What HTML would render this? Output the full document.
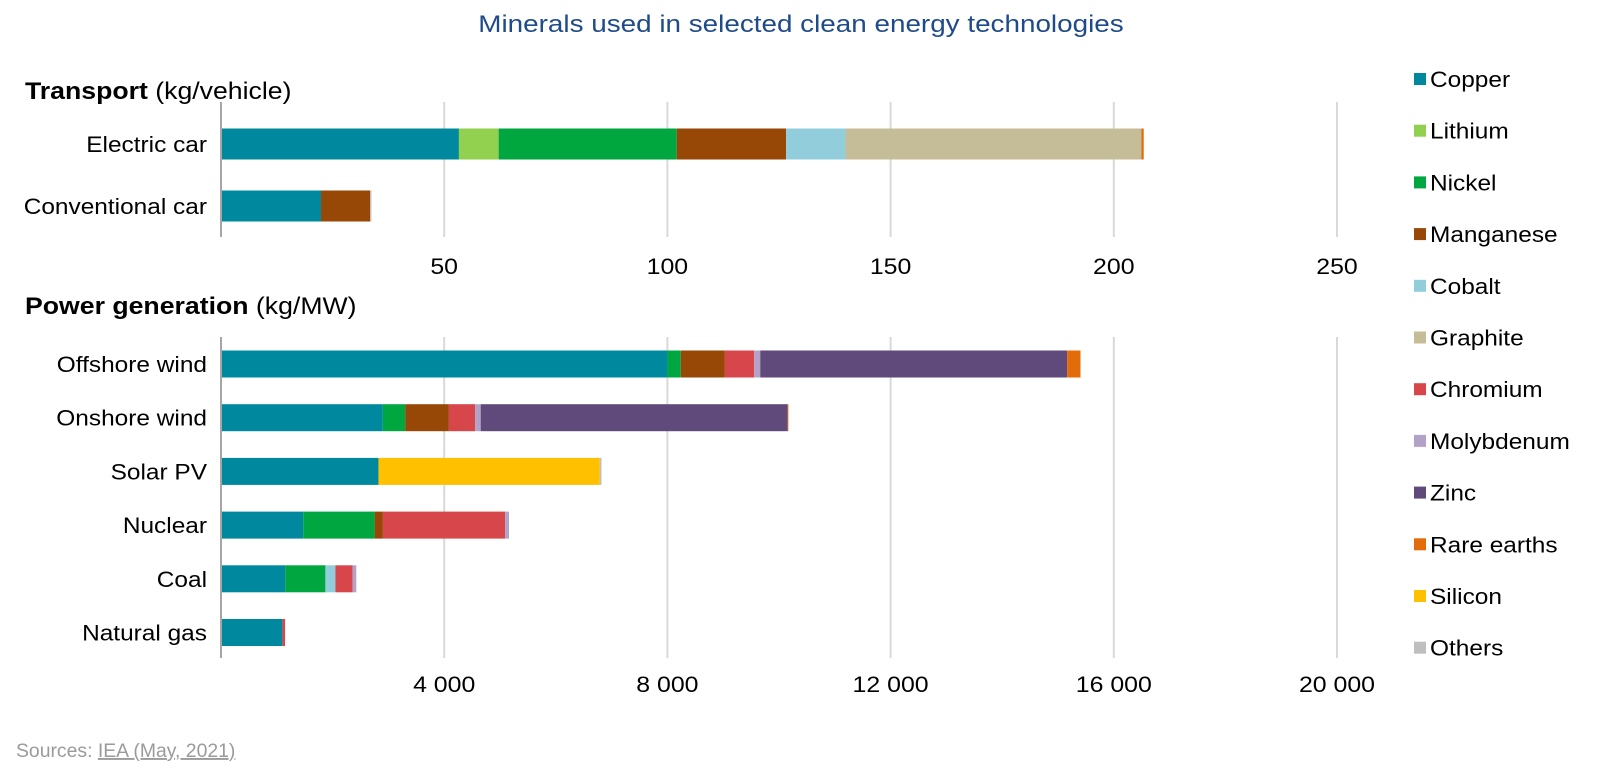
<!DOCTYPE html>
<html><head><meta charset="utf-8"><style>
body{margin:0;background:#fff;font-family:"Liberation Sans",sans-serif;}
svg text{font-family:"Liberation Sans",sans-serif;}
</style></head><body>
<svg id="c" width="1600" height="777" xmlns="http://www.w3.org/2000/svg">
<text id="t0" x="801" y="32" text-anchor="middle" font-size="24" fill="#1f4b8a">Minerals used in selected clean energy technologies</text>
<text id="t1" x="25" y="99" font-size="24" fill="#000"><tspan font-weight="bold">Transport</tspan> (kg/vehicle)</text>
<text id="t2" x="25" y="314" font-size="24" fill="#000"><tspan font-weight="bold">Power generation</tspan> (kg/MW)</text>
<text id="t3" x="16" y="757" font-size="19" fill="#9a9a9a">Sources: <tspan text-decoration="underline">IEA (May, 2021)</tspan></text>
<g id="g1"></g><g id="g2"></g><g id="leg"></g>
</svg>
<script>
const minerals=["Copper","Lithium","Nickel","Manganese","Cobalt","Graphite","Chromium","Molybdenum","Zinc","Rare earths","Silicon","Others"];
const colors=["#00889e","#92d050","#00a63f","#974706","#92cddc","#c4bd97","#d6464b","#b3a2c7","#604a7b","#e36c0a","#ffc000","#bfbfbf"];
const transportCats=["Electric car","Conventional car"];
const transportVals=[
 [53.3,8.9,39.9,24.5,13.3,66.3,0,0,0,0.5,0,0],
 [22.4,0,0,11,0,0,0,0,0,0,0,0.3]];
const transportTicks=[50,100,150,200,250];
const transportTickLabels=["50","100","150","200","250"];
const powerCats=["Offshore wind","Onshore wind","Solar PV","Nuclear","Coal","Natural gas"];
const powerVals=[
 [8000,0,240,790,0,0,525,109,5500,239,0,0],
 [2900,0,404,780,0,0,470,100,5500,14,0,0],
 [2822,0,0,0,0,0,0,0,0,0,3967,30],
 [1473,0,1280,148,0,0,2190,70,0,0,0,0],
 [1150,0,721,0,180,0,308,66,0,0,0,0],
 [1100,0,0,0,0,0,48,0,0,0,0,0]];
const powerTicks=[4000,8000,12000,16000,20000];
const powerTickLabels=["4 000","8 000","12 000","16 000","20 000"];
const NS="http://www.w3.org/2000/svg";
function mk(t,a,p){const e=document.createElementNS(NS,t);for(const k in a)e.setAttribute(k,a[k]);p.appendChild(e);return e;}
function stretch(e,k){const w=e.getComputedTextLength();e.setAttribute("textLength",w*k);e.setAttribute("lengthAdjust","spacingAndGlyphs");}
stretch(document.getElementById("t0"),1.16);
stretch(document.getElementById("t1"),1.11);
stretch(document.getElementById("t2"),1.11);
stretch(document.getElementById("t3"),1.02);
function panel(g,cats,vals,ticks,labels,max,top,bottom,rowY0,rowStep,barH,tickY,pref){
 const x0=221,x1=1337;const sx=v=>x0+v/max*(x1-x0);
 ticks.forEach((t,i)=>{
  const l=mk("line",{x1:sx(t),x2:sx(t),y1:top,y2:bottom,stroke:"#d9d9d9","stroke-width":2},g);
  
  
  const tx=mk("text",{x:sx(t),y:tickY,"text-anchor":"middle","font-size":22,fill:"#000"},g);tx.textContent=labels[i];
  
  
  stretch(tx,1.13);
 });
 cats.forEach((c,r)=>{
  const cy=rowY0+r*rowStep;let acc=0;
  const lb=mk("text",{x:207,y:cy+8,"text-anchor":"end","font-size":22,fill:"#000"},g);lb.textContent=c;
  
  
  stretch(lb,1.11);
  vals[r].forEach((v,k)=>{ if(v<=0)return;
   const rc=mk("rect",{x:sx(acc),y:cy-barH/2,width:sx(acc+v)-sx(acc),height:barH,fill:colors[k]},g);
   
   
   acc+=v;});
 });
 const ax=mk("line",{x1:x0,x2:x0,y1:top,y2:bottom,stroke:"#a6a6a6","stroke-width":2},g);
 
 
}
panel(document.getElementById("g1"),transportCats,transportVals,transportTicks,transportTickLabels,250,102,237,144,62,31,274,"transport");
panel(document.getElementById("g2"),powerCats,powerVals,powerTicks,powerTickLabels,20000,337,658,364,53.7,27,692,"power");
const lg=document.getElementById("leg");
minerals.forEach((m,i)=>{const y=79+i*51.7;
 const s=mk("rect",{x:1414,y:y-6,width:12,height:12,fill:colors[i]},lg);
 
 
 const t=mk("text",{x:1430,y:y+8,"font-size":22,fill:"#000"},lg);t.textContent=m;
 
 
 stretch(t,1.11);
});
</script>
</body></html>
